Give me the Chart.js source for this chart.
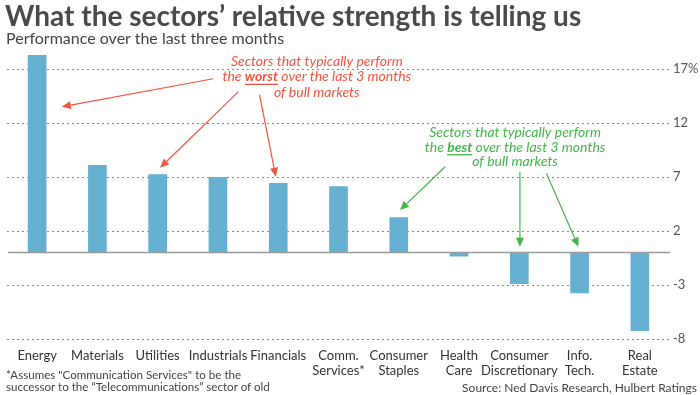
<!DOCTYPE html>
<html><head><meta charset="utf-8">
<script src="https://cdn.jsdelivr.net/npm/chart.js@4"></script>
<style>
html,body{margin:0;padding:0;background:#fff;}
#wrap{position:relative;width:700px;height:395px;overflow:hidden;font-family:Lato,"Noto Sans",sans-serif;}
canvas{position:absolute;left:0;top:0;}
.t{position:absolute;white-space:nowrap;}
#title{left:5px;top:-2px;font-size:28px;font-weight:700;color:#4a4a4a;}
#sub{left:6px;top:28px;font-size:16px;color:#444;}
#foot{left:6px;top:369px;font-size:11.6px;line-height:12px;color:#444;}
#src{right:3px;top:380px;font-size:12px;color:#444;}
</style></head>
<body>
<div id="wrap">
<canvas id="c" width="700" height="395"></canvas>
<div class="t" id="title">What the sectors’ relative strength is telling us</div>
<div class="t" id="sub">Performance over the last three months</div>
<div class="t" id="foot">*Assumes "Communication Services" to be the<br>successor to the “Telecommunications” sector of old</div>
<div class="t" id="src">Source: Ned Davis Research, Hulbert Ratings</div>
</div>
<script>
const categories = [["Energy"],["Materials"],["Utilities"],["Industrials"],["Financials"],["Comm.","Services*"],["Consumer","Staples"],["Health","Care"],["Consumer","Discretionary"],["Info.","Tech."],["Real","Estate"]];
const performance = [18.3, 8.1, 7.25, 7.0, 6.45, 6.15, 3.27, -0.35, -2.9, -3.77, -7.26];
const tickValues = [-8, -3, 2, 7, 12, 17];

// annotation text: [before, bold word, after] lines, anchored at (category index, value)
const worstColor = '#f2553f';
const bestColor = '#44b54a';
const worstText = [["Sectors that typically perform","",""],["the ","worst"," over the last 3 months"],["of bull markets","",""]];
const worstAnchor = {x: 4.64, y: [17.28, 15.85, 14.41]};
const bestText = [["Sectors that typically perform","",""],["the ","best"," over the last 3 months"],["of bull markets","",""]];
const bestAnchor = {x: 7.93, y: [10.73, 9.34, 8.06]};
// arrows: [fromIndex, fromValue, toIndex, toValue]
const worstArrows = [[2.92,16.1,0.41,13.5],[3.34,14.9,2.04,7.86],[3.69,14.6,3.96,7.03]];
const bestArrows = [[6.77,7.95,6.02,3.94],[8.01,7.49,8.01,0.55],[8.45,7.34,8.98,0.55]];

const annot = {
  id: 'annot',
  afterDatasetsDraw(chart) {
    const ctx = chart.ctx, xs = chart.scales.x, ys = chart.scales.y, ca = chart.chartArea;
    const y0 = ys.getPixelForValue(0);
    ctx.save();
    ctx.strokeStyle = '#9a9a9a'; ctx.lineWidth = 1.5;
    ctx.beginPath(); ctx.moveTo(ca.left + 1, y0); ctx.lineTo(ca.right, y0); ctx.stroke();

    const drawText = (lines, anchor, color) => {
      ctx.fillStyle = color; ctx.strokeStyle = color; ctx.textBaseline = 'alphabetic'; ctx.textAlign = 'left';
      const cx = xs.getPixelForValue(anchor.x);
      lines.forEach((ln, i) => {
        const by = ys.getPixelForValue(anchor.y[i]);
        const fN = 'italic 14px Lato', fB = 'italic bold 14px Lato';
        ctx.font = fN; const w1 = ctx.measureText(ln[0]).width; const w3 = ctx.measureText(ln[2]).width;
        ctx.font = fB; const w2 = ctx.measureText(ln[1]).width;
        let x = cx - (w1 + w2 + w3) / 2;
        ctx.font = fN; ctx.fillText(ln[0], x, by); x += w1;
        if (ln[1]) {
          ctx.font = fB; ctx.fillText(ln[1], x, by);
          ctx.lineWidth = 1.3; ctx.beginPath(); ctx.moveTo(x, by + 3); ctx.lineTo(x + w2, by + 3); ctx.stroke();
          x += w2;
        }
        ctx.font = fN; ctx.fillText(ln[2], x, by);
      });
    };
    const drawArrows = (arr, color) => {
      ctx.strokeStyle = color; ctx.fillStyle = color; ctx.lineWidth = 1.2;
      arr.forEach(a => {
        const x1 = xs.getPixelForValue(a[0]), y1 = ys.getPixelForValue(a[1]);
        const x2 = xs.getPixelForValue(a[2]), y2 = ys.getPixelForValue(a[3]);
        const ang = Math.atan2(y2 - y1, x2 - x1), L = 9, W = 4;
        const bx = x2 - L * Math.cos(ang), by = y2 - L * Math.sin(ang);
        ctx.beginPath(); ctx.moveTo(x1, y1); ctx.lineTo(bx, by); ctx.stroke();
        ctx.beginPath(); ctx.moveTo(x2, y2);
        ctx.lineTo(bx + W * Math.sin(ang), by - W * Math.cos(ang));
        ctx.lineTo(bx - W * Math.sin(ang), by + W * Math.cos(ang));
        ctx.closePath(); ctx.fill();
      });
    };
    drawText(worstText, worstAnchor, worstColor);
    drawArrows(worstArrows, worstColor);
    drawText(bestText, bestAnchor, bestColor);
    drawArrows(bestArrows, bestColor);
    ctx.restore();
  }
};

new Chart(document.getElementById('c'), {
  type: 'bar',
  data: {
    labels: categories,
    datasets: [{ data: performance, backgroundColor: '#66b1d2', barPercentage: 0.31, categoryPercentage: 1.0 }]
  },
  options: {
    responsive: false, animation: false,
    layout: { padding: { top: 47.4, left: 7, right: 0, bottom: 0 } },
    plugins: { legend: { display: false }, tooltip: { enabled: false } },
    scales: {
      x: {
        grid: { display: false }, border: { display: false },
        ticks: { color: '#333', font: { family: 'Lato', size: 13, lineHeight: 1.15 }, padding: 1, maxRotation: 0, autoSkip: false },
        afterFit: s => { s.height = 56; }
      },
      y: {
        position: 'right', min: -8, max: 19,
        afterBuildTicks: s => { s.ticks = tickValues.map(v => ({ value: v })); },
        grid: { color: '#8a8a8a', lineWidth: 1, drawTicks: false },
        border: { display: false, dash: [2, 3] },
        ticks: { padding: 3, color: '#555', font: { family: 'Lato', size: 13 }, callback: v => v === 17 ? '17%' : String(v) },
        afterFit: s => { s.width = 30; }
      }
    }
  },
  plugins: [annot]
});
</script>
</body></html>
